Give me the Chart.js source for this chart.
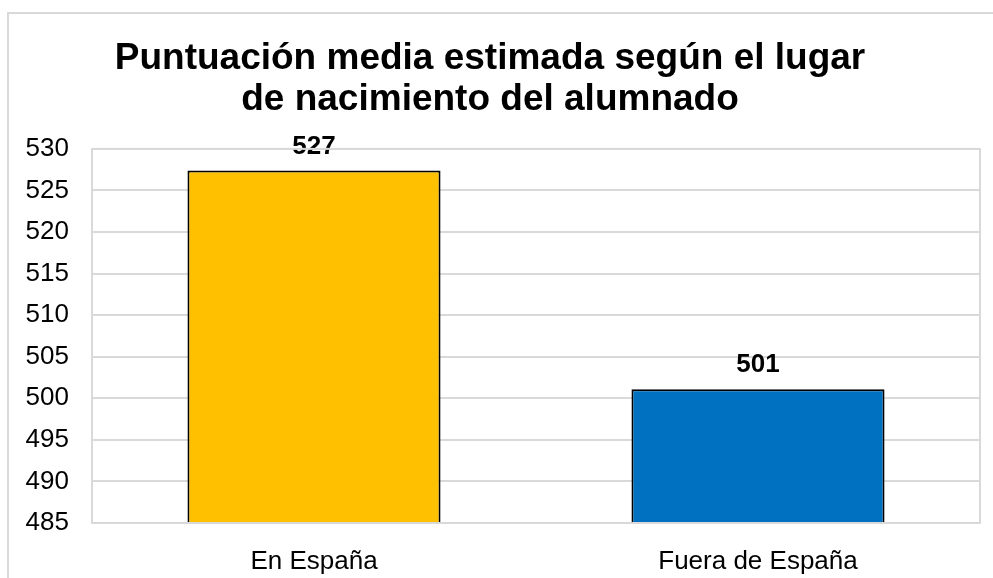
<!DOCTYPE html>
<html>
<head>
  <meta charset="utf-8">
  <title>Puntuación media estimada</title>
  <script src="https://cdn.jsdelivr.net/npm/chart.js@4.4.1/dist/chart.umd.min.js"></script>
  <style>
    html, body { margin: 0; padding: 0; background: #fff; }
    #wrap { position: relative; width: 993px; height: 578px; }
  </style>
</head>
<body>
  <div id="wrap">
    <canvas id="myBarChart"></canvas>
  </div>

  <script>
    const categories = ['En España', 'Fuera de España'];
    const scores = [527.4, 501.1];
    const barColors = ['#FFC000', '#0070C0'];
    const titleLines = ['Puntuación media estimada según el lugar', 'de nacimiento del alumnado'];

    const FONT = "'Liberation Sans', Arial, sans-serif";

    // frame round the whole chart and box round the plot area
    const frames = {
      id: 'frames',
      beforeDraw(chart) {
        const ctx = chart.ctx;
        ctx.save();
        ctx.strokeStyle = '#d9d9d9';
        ctx.lineWidth = 2;
        ctx.strokeRect(8, 13, 1100, 700);
        ctx.restore();
      },
      afterDraw(chart) {
        const a = chart.chartArea;
        const ctx = chart.ctx;
        ctx.save();
        ctx.strokeStyle = '#d9d9d9';
        ctx.lineWidth = 2;
        ctx.strokeRect(a.left, a.top, a.right - a.left, a.bottom - a.top);
        ctx.restore();
      }
    };

    // value above each bar
    const valueLabels = {
      id: 'valueLabels',
      afterDatasetsDraw(chart) {
        const ctx = chart.ctx;
        const meta = chart.getDatasetMeta(0);
        ctx.save();
        ctx.font = 'bold 26px ' + FONT;
        ctx.fillStyle = '#000';
        ctx.textAlign = 'center';
        ctx.textBaseline = 'bottom';
        meta.data.forEach((bar, i) => {
          ctx.fillText(Math.round(scores[i]), bar.x, bar.y - 11);
        });
        ctx.restore();
      }
    };

    const data = {
      labels: categories,
      datasets: [{
        data: scores,
        backgroundColor: barColors,
        borderColor: '#000',
        borderWidth: 2,
        borderSkipped: false,
        categoryPercentage: 1,
        barPercentage: 0.57
      }]
    };

    const config = {
      type: 'bar',
      data: data,
      options: {
        responsive: true,
        maintainAspectRatio: false,
        animation: false,
        layout: { padding: { top: 0, left: 0, right: 13, bottom: 0 } },
        plugins: {
          legend: { display: false },
          tooltip: { enabled: false },
          title: {
            display: true,
            text: titleLines,
            color: '#000',
            font: { family: FONT, size: 37, weight: 'bold', lineHeight: 1.12 },
            padding: { top: 38, bottom: 28 }
          }
        },
        scales: {
          x: {
            grid: { display: false },
            border: { display: false },
            ticks: { color: '#000', font: { family: FONT, size: 26 }, padding: 15 },
            afterFit(scale) { scale.height = 55; }
          },
          y: {
            min: 485,
            max: 530,
            grid: { color: '#d9d9d9', lineWidth: 2, drawTicks: false },
            border: { display: false },
            ticks: { stepSize: 5, color: '#000', font: { family: FONT, size: 26 }, padding: 23 },
            afterFit(scale) { scale.width = 92; }
          }
        }
      },
      plugins: [frames, valueLabels]
    };

    new Chart(document.getElementById('myBarChart'), config);
  </script>
</body>
</html>
